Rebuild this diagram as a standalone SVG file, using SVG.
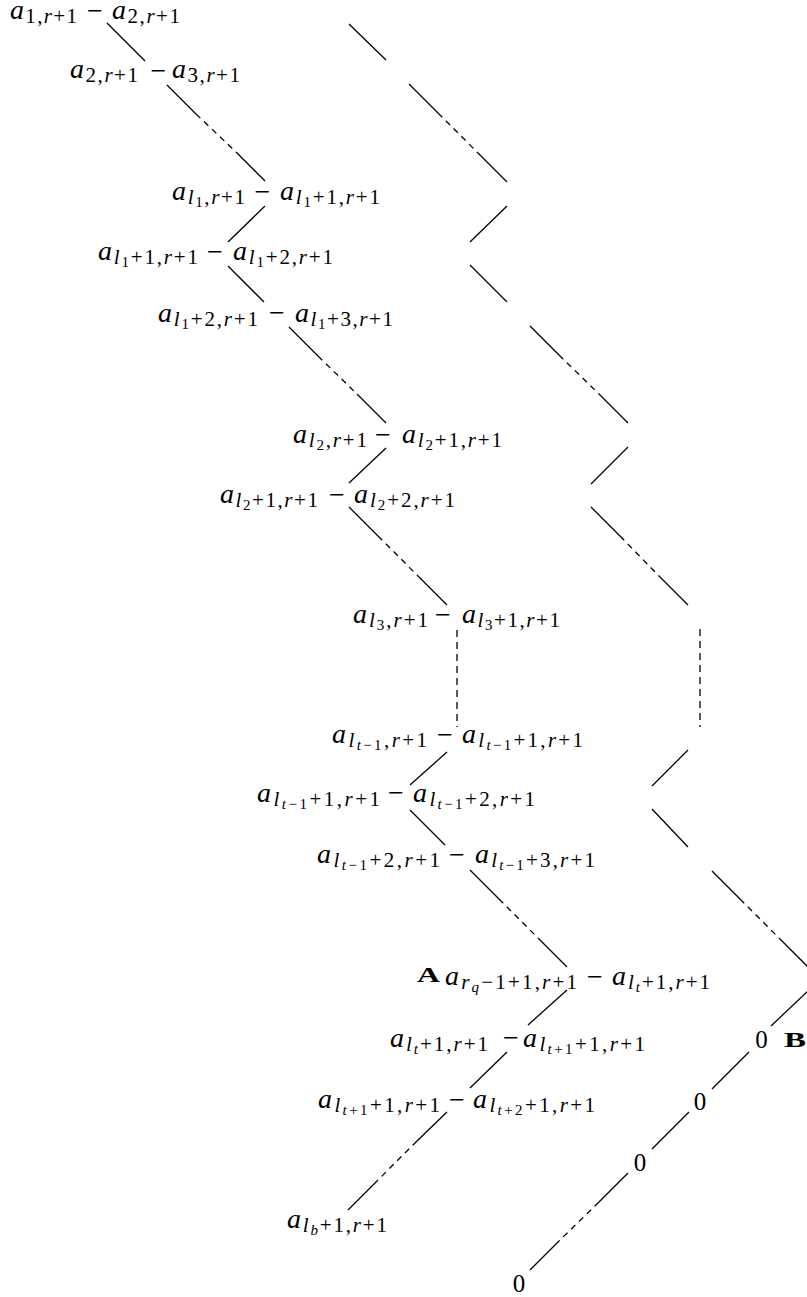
<svg xmlns="http://www.w3.org/2000/svg" width="807" height="1297" viewBox="0 0 807 1297">
<style>
text{font-family:"Liberation Serif",serif;font-size:28px;fill:#000}
.a{font-style:italic}
.s{font-size:21px;font-style:normal}
.ss{font-size:15px;font-style:normal}
.i{font-style:italic}
.mn{font-size:28px;text-anchor:middle}
.z{font-size:25px;text-anchor:middle}
.bf{font-weight:bold;font-size:21px}
.ln{stroke:#000;stroke-width:1.3;fill:none}
.dl{stroke-dasharray:6 5}
.dv{stroke-dasharray:7 5}
</style>
<rect width="807" height="1297" fill="#fff"/>
<g id="connectors">
<path class="ln" d="M107,23L145,61"/>
<path class="ln" d="M167,85L196,114M236,152L265,181"/><path class="ln dl" d="M196,114L236,152"/>
<path class="ln" d="M265,206L228,242"/>
<path class="ln" d="M228,266L264,302"/>
<path class="ln" d="M289,327L318,356M357,394L386,423"/><path class="ln dl" d="M318,356L357,394"/>
<path class="ln" d="M386,448L349,483"/>
<path class="ln" d="M349,507L378,536M418,576L447,605"/><path class="ln dl" d="M378,536L418,576"/>
<path class="ln dv" d="M457,630L457,727"/>
<path class="ln" d="M447,752L410,785"/>
<path class="ln" d="M410,810L445,845"/>
<path class="ln" d="M470,870L499,899M538,938L567,967"/><path class="ln dl" d="M499,899L538,938"/>
<path class="ln" d="M567,990L528,1025"/>
<path class="ln" d="M507,1052L470,1088"/>
<path class="ln" d="M447,1112L417,1141M377,1181L348,1210"/><path class="ln dl" d="M417,1141L377,1181"/>
<path class="ln" d="M349,24L386,60"/>
<path class="ln" d="M409,84L438,113M478,153L507,182"/><path class="ln dl" d="M438,113L478,153"/>
<path class="ln" d="M507,206L470,242"/>
<path class="ln" d="M470,265L507,302"/>
<path class="ln" d="M530,326L559,355M599,394L628,423"/><path class="ln dl" d="M559,355L599,394"/>
<path class="ln" d="M628,447L591,484"/>
<path class="ln" d="M591,507L620,536M659,576L688,605"/><path class="ln dl" d="M620,536L659,576"/>
<path class="ln dv" d="M700,629L700,727"/>
<path class="ln" d="M688,750L652,786"/>
<path class="ln" d="M652,809L688,847"/>
<path class="ln" d="M712,871L740,899M781,940L809,968"/><path class="ln dl" d="M740,899L781,940"/>
<path class="ln" d="M809,990L771,1026"/>
<path class="ln" d="M749,1052L712,1089"/>
<path class="ln" d="M689,1112L652,1149"/>
<path class="ln" d="M628,1173L599,1202M559,1241L530,1270"/><path class="ln dl" d="M599,1202L559,1241"/>
</g>
<g id="row1">
<text x="10" y="19" textLength="67"><tspan class="a">a</tspan><tspan class="s" dy="4">1,<tspan class="i">r</tspan>+1</tspan></text>
<text class="mn" x="95" y="20">−</text>
<text x="112" y="19" textLength="68"><tspan class="a">a</tspan><tspan class="s" dy="4">2,<tspan class="i">r</tspan>+1</tspan></text>
</g>
<g id="row2">
<text x="70" y="78" textLength="68"><tspan class="a">a</tspan><tspan class="s" dy="4">2,<tspan class="i">r</tspan>+1</tspan></text>
<text class="mn" x="158.5" y="80">−</text>
<text x="172" y="78" textLength="68"><tspan class="a">a</tspan><tspan class="s" dy="4">3,<tspan class="i">r</tspan>+1</tspan></text>
</g>
<g id="row3">
<text x="172" y="200" textLength="73"><tspan class="a">a</tspan><tspan class="s i" dy="4">l</tspan><tspan class="ss" dy="3">1</tspan><tspan class="s" dy="-3">,<tspan class="i">r</tspan>+1</tspan></text>
<text class="mn" x="262.5" y="201">−</text>
<text x="280" y="200" textLength="100"><tspan class="a">a</tspan><tspan class="s i" dy="4">l</tspan><tspan class="ss" dy="3">1</tspan><tspan class="s" dy="-3">+1,<tspan class="i">r</tspan>+1</tspan></text>
</g>
<g id="row4">
<text x="98" y="260" textLength="100"><tspan class="a">a</tspan><tspan class="s i" dy="4">l</tspan><tspan class="ss" dy="3">1</tspan><tspan class="s" dy="-3">+1,<tspan class="i">r</tspan>+1</tspan></text>
<text class="mn" x="215" y="261">−</text>
<text x="233" y="260" textLength="100"><tspan class="a">a</tspan><tspan class="s i" dy="4">l</tspan><tspan class="ss" dy="3">1</tspan><tspan class="s" dy="-3">+2,<tspan class="i">r</tspan>+1</tspan></text>
</g>
<g id="row5">
<text x="158" y="322" textLength="100"><tspan class="a">a</tspan><tspan class="s i" dy="4">l</tspan><tspan class="ss" dy="3">1</tspan><tspan class="s" dy="-3">+2,<tspan class="i">r</tspan>+1</tspan></text>
<text class="mn" x="277" y="322">−</text>
<text x="295" y="322" textLength="98"><tspan class="a">a</tspan><tspan class="s i" dy="4">l</tspan><tspan class="ss" dy="3">1</tspan><tspan class="s" dy="-3">+3,<tspan class="i">r</tspan>+1</tspan></text>
</g>
<g id="row6">
<text x="293" y="443" textLength="74"><tspan class="a">a</tspan><tspan class="s i" dy="4">l</tspan><tspan class="ss" dy="3">2</tspan><tspan class="s" dy="-3">,<tspan class="i">r</tspan>+1</tspan></text>
<text class="mn" x="383" y="444">−</text>
<text x="402" y="443" textLength="100"><tspan class="a">a</tspan><tspan class="s i" dy="4">l</tspan><tspan class="ss" dy="3">2</tspan><tspan class="s" dy="-3">+1,<tspan class="i">r</tspan>+1</tspan></text>
</g>
<g id="row7">
<text x="220" y="503" textLength="98"><tspan class="a">a</tspan><tspan class="s i" dy="4">l</tspan><tspan class="ss" dy="3">2</tspan><tspan class="s" dy="-3">+1,<tspan class="i">r</tspan>+1</tspan></text>
<text class="mn" x="337" y="504">−</text>
<text x="354" y="503" textLength="101"><tspan class="a">a</tspan><tspan class="s i" dy="4">l</tspan><tspan class="ss" dy="3">2</tspan><tspan class="s" dy="-3">+2,<tspan class="i">r</tspan>+1</tspan></text>
</g>
<g id="row8">
<text x="353" y="623" textLength="75"><tspan class="a">a</tspan><tspan class="s i" dy="4">l</tspan><tspan class="ss" dy="3">3</tspan><tspan class="s" dy="-3">,<tspan class="i">r</tspan>+1</tspan></text>
<text class="mn" x="443" y="624">−</text>
<text x="462" y="623" textLength="98"><tspan class="a">a</tspan><tspan class="s i" dy="4">l</tspan><tspan class="ss" dy="3">3</tspan><tspan class="s" dy="-3">+1,<tspan class="i">r</tspan>+1</tspan></text>
</g>
<g id="row9">
<text x="332" y="743" textLength="95"><tspan class="a">a</tspan><tspan class="s i" dy="4">l</tspan><tspan class="ss" dy="3"><tspan class="i">t</tspan>−1</tspan><tspan class="s" dy="-3">,<tspan class="i">r</tspan>+1</tspan></text>
<text class="mn" x="445" y="744">−</text>
<text x="462" y="743" textLength="121"><tspan class="a">a</tspan><tspan class="s i" dy="4">l</tspan><tspan class="ss" dy="3"><tspan class="i">t</tspan>−1</tspan><tspan class="s" dy="-3">+1,<tspan class="i">r</tspan>+1</tspan></text>
</g>
<g id="row10">
<text x="257" y="802" textLength="123"><tspan class="a">a</tspan><tspan class="s i" dy="4">l</tspan><tspan class="ss" dy="3"><tspan class="i">t</tspan>−1</tspan><tspan class="s" dy="-3">+1,<tspan class="i">r</tspan>+1</tspan></text>
<text class="mn" x="396" y="802">−</text>
<text x="413" y="802" textLength="122"><tspan class="a">a</tspan><tspan class="s i" dy="4">l</tspan><tspan class="ss" dy="3"><tspan class="i">t</tspan>−1</tspan><tspan class="s" dy="-3">+2,<tspan class="i">r</tspan>+1</tspan></text>
</g>
<g id="row11">
<text x="317" y="863" textLength="123"><tspan class="a">a</tspan><tspan class="s i" dy="4">l</tspan><tspan class="ss" dy="3"><tspan class="i">t</tspan>−1</tspan><tspan class="s" dy="-3">+2,<tspan class="i">r</tspan>+1</tspan></text>
<text class="mn" x="457" y="864">−</text>
<text x="475" y="863" textLength="120"><tspan class="a">a</tspan><tspan class="s i" dy="4">l</tspan><tspan class="ss" dy="3"><tspan class="i">t</tspan>−1</tspan><tspan class="s" dy="-3">+3,<tspan class="i">r</tspan>+1</tspan></text>
</g>
<g id="labelA"><text class="bf" x="417" y="982" textLength="23" lengthAdjust="spacingAndGlyphs">A</text></g>
<g id="row12">
<text x="445" y="985" textLength="132"><tspan class="a">a</tspan><tspan class="s i" dy="4">r</tspan><tspan class="ss i" dy="3">q</tspan><tspan class="s" dy="-3">−1+1,<tspan class="i">r</tspan>+1</tspan></text>
<text class="mn" x="595" y="986">−</text>
<text x="612" y="985" textLength="98"><tspan class="a">a</tspan><tspan class="s i" dy="4">l</tspan><tspan class="ss i" dy="3">t</tspan><tspan class="s" dy="-3">+1,<tspan class="i">r</tspan>+1</tspan></text>
</g>
<g id="row13">
<text x="390" y="1047" textLength="98"><tspan class="a">a</tspan><tspan class="s i" dy="4">l</tspan><tspan class="ss i" dy="3">t</tspan><tspan class="s" dy="-3">+1,<tspan class="i">r</tspan>+1</tspan></text>
<text class="mn" x="511" y="1047">−</text>
<text x="523" y="1047" textLength="122"><tspan class="a">a</tspan><tspan class="s i" dy="4">l</tspan><tspan class="ss" dy="3"><tspan class="i">t</tspan>+1</tspan><tspan class="s" dy="-3">+1,<tspan class="i">r</tspan>+1</tspan></text>
</g>
<g id="row14">
<text x="318" y="1108" textLength="122"><tspan class="a">a</tspan><tspan class="s i" dy="4">l</tspan><tspan class="ss" dy="3"><tspan class="i">t</tspan>+1</tspan><tspan class="s" dy="-3">+1,<tspan class="i">r</tspan>+1</tspan></text>
<text class="mn" x="457" y="1109">−</text>
<text x="473" y="1108" textLength="122"><tspan class="a">a</tspan><tspan class="s i" dy="4">l</tspan><tspan class="ss" dy="3"><tspan class="i">t</tspan>+2</tspan><tspan class="s" dy="-3">+1,<tspan class="i">r</tspan>+1</tspan></text>
</g>
<g id="row15">
<text x="287" y="1228" textLength="100"><tspan class="a">a</tspan><tspan class="s i" dy="4">l</tspan><tspan class="ss i" dy="3">b</tspan><tspan class="s" dy="-3">+1,<tspan class="i">r</tspan>+1</tspan></text>
</g>
<g id="zeroB"><text class="z" x="761.5" y="1048">0</text></g>
<g id="labelB"><text class="bf" x="784" y="1047" textLength="22" lengthAdjust="spacingAndGlyphs">B</text></g>
<g id="zero2"><text class="z" x="700" y="1110">0</text></g>
<g id="zero3"><text class="z" x="640" y="1171">0</text></g>
<g id="zero4"><text class="z" x="519" y="1292">0</text></g>
</svg>
